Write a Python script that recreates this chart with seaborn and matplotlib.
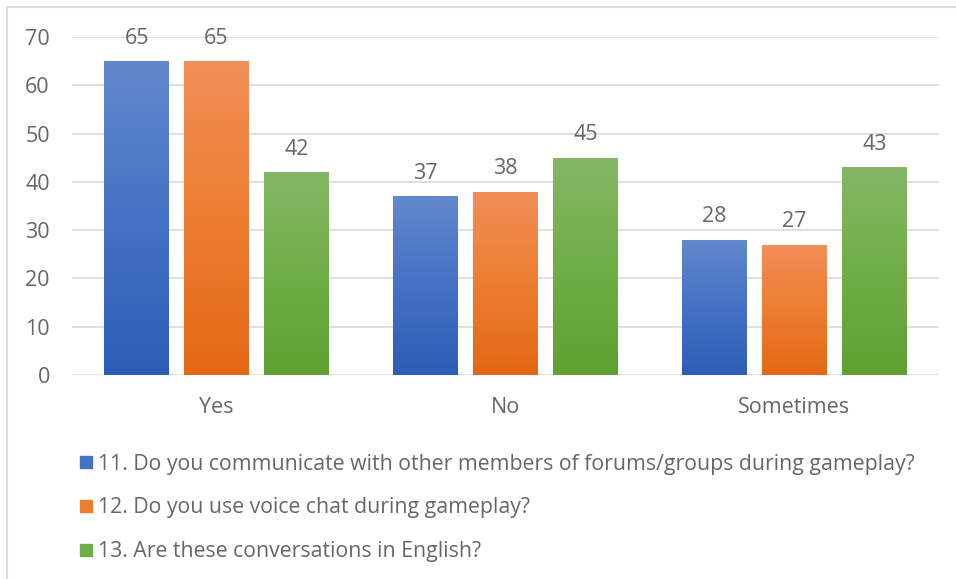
import matplotlib.pyplot as plt
import matplotlib.colors as mcolors
from matplotlib.lines import Line2D
import numpy as np
import pandas as pd
import seaborn as sns

categories = ["Yes", "No", "Sometimes"]
series_names = [
    "11. Do you communicate with other members of forums/groups during gameplay?",
    "12. Do you use voice chat during gameplay?",
    "13. Are these conversations in English?",
]
q11 = [65, 37, 28]
q12 = [65, 38, 27]
q13 = [42, 45, 43]

# top / bottom colours of the gradient fill for each series
grad_top = ["#6388CD", "#F28E59", "#85B866"]
grad_bot = ["#2C5DB6", "#E36815", "#60A032"]
mid_cols = ["#4472C4", "#ED7D31", "#70AD47"]

df = pd.DataFrame({
    "answer": categories * 3,
    "value": q11 + q12 + q13,
    "question": [series_names[0]] * 3 + [series_names[1]] * 3 + [series_names[2]] * 3,
})

sns.set_theme(style="white")
plt.rcParams["font.family"] = ["Open Sans", "DejaVu Sans"]
text_col = "#666666"
grid_col = "#D9D9D9"
fs = 15.5

fig = plt.figure(figsize=(9.56, 5.79), dpi=100)
ax = fig.add_axes([0.0753, 0.3523, 0.9067, 0.5838])

sns.barplot(data=df, x="answer", y="value", hue="question", order=categories,
            hue_order=series_names, palette=mid_cols, width=0.83, gap=0.1875,
            legend=False, ax=ax)

ax.set_ylim(0, 70)
ax.set_xlim(-0.5, 2.5)
ax.set_yticks(range(0, 71, 10))
ax.yaxis.grid(True, color=grid_col, linewidth=1.2)
ax.set_axisbelow(True)
for s in ax.spines.values():
    s.set_visible(False)
ax.set_xlabel("")
ax.set_ylabel("")
ax.tick_params(axis="both", length=0, labelsize=fs, colors=text_col)
ax.tick_params(axis="y", pad=16)
ax.tick_params(axis="x", pad=16)

# gradient fills clipped to each bar
for i, cont in enumerate(ax.containers):
    cmap = mcolors.LinearSegmentedColormap.from_list(
        f"g{i}", [grad_bot[i], mid_cols[i], grad_top[i]])
    grad = np.linspace(0, 1, 256).reshape(-1, 1)
    for patch in cont.patches:
        x0, y0 = patch.get_x(), patch.get_y()
        w, h = patch.get_width(), patch.get_height()
        im = ax.imshow(grad, cmap=cmap, aspect="auto", origin="lower",
                       extent=[x0, x0 + w, y0, y0 + h], zorder=patch.get_zorder())
        im.set_clip_path(patch)
        patch.set_facecolor("none")
        patch.set_edgecolor("none")
    ax.bar_label(cont, padding=9, fontsize=fs, color=text_col)

ax.set_xlim(-0.5, 2.5)
ax.set_ylim(0, 70)

handles = [Line2D([0], [0], marker="s", linestyle="none", markersize=8.6,
                  markerfacecolor=c, markeredgecolor=c) for c in mid_cols]
fig.legend(handles, series_names, loc="upper left",
           bbox_to_anchor=(0.081, 0.2165), frameon=False, fontsize=15.3,
           labelcolor=text_col, handletextpad=0.15, labelspacing=1.07,
           handlelength=0.8, borderaxespad=0, borderpad=0)

# outer chart border (top and left edges visible)
border = "#D9DEE5"
fig.add_artist(Line2D([7 / 956, 1.0], [1 - 7 / 579] * 2, color=border, lw=1.5,
                      transform=fig.transFigure))
fig.add_artist(Line2D([7 / 956] * 2, [0, 1 - 7 / 579], color=border, lw=1.5,
                      transform=fig.transFigure))

fig.savefig("out.png", dpi=100)
